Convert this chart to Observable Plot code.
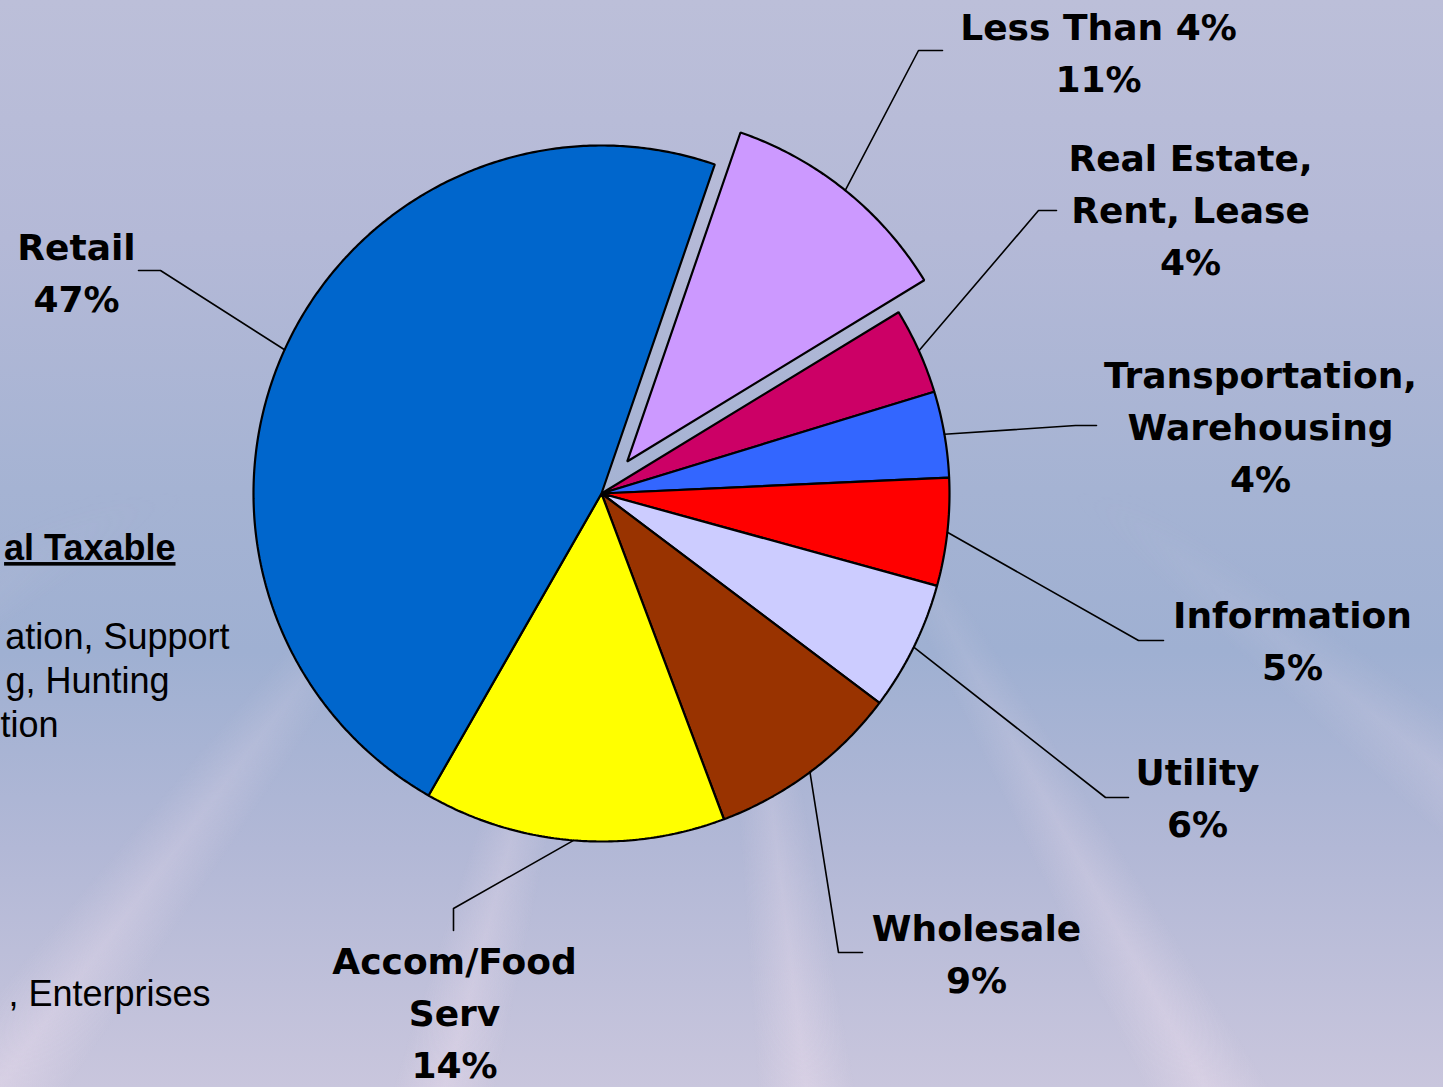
<!DOCTYPE html>
<html>
<head>
<meta charset="utf-8">
<script src="https://cdn.jsdelivr.net/npm/d3@7"></script>
<script src="https://cdn.jsdelivr.net/npm/@observablehq/plot@0.6"></script>
<style>
  html, body { margin: 0; padding: 0; overflow: hidden; width: 1443px; height: 1087px; }
  body {
    position: relative;
    background: linear-gradient(to bottom, #bcbfd9 0%, #b4b9d7 22%, #a5b3d3 45%, #9fb0d2 60%, #b2b8d6 78%, #c9c6dd 100%);
  }
  #rays {
    position: absolute; left: 0; top: 0; width: 1443px; height: 1087px;
    background: repeating-conic-gradient(from 95deg at 48% 15%,
      rgba(236,222,238,0) 0deg, rgba(236,222,238,0) 9deg,
      rgba(236,222,238,0.42) 12deg, rgba(236,222,238,0) 15deg, rgba(236,222,238,0) 22deg);
    -webkit-mask-image: linear-gradient(to bottom, rgba(0,0,0,0) 45%, rgba(0,0,0,1) 100%);
    mask-image: linear-gradient(to bottom, rgba(0,0,0,0) 45%, rgba(0,0,0,1) 100%);
  }
  #chart { position: absolute; left: 0; top: 0; }
</style>
</head>
<body>
<div id="rays"></div>
<div id="chart"></div>
<script>
// ---- data ----
const categories = ["Less Than 4%", "Real Estate, Rent, Lease", "Transportation, Warehousing", "Information", "Utility", "Wholesale", "Accom/Food Serv", "Retail"];
const shares = [11, 4, 4, 5, 6, 9, 14, 47];
const labelLines = [["Less Than 4%"], ["Real Estate,", "Rent, Lease"], ["Transportation,", "Warehousing"], ["Information"], ["Utility"], ["Wholesale"], ["Accom/Food", "Serv"], ["Retail"]];
const sideText = ["al Taxable", "ation, Support", "g, Hunting", "tion", ", Enterprises"];

// ---- styles / layout ----
const colors = ["#CC99FF", "#CC0066", "#3366FF", "#FF0000", "#CCCCFF", "#993300", "#FFFF00", "#0066CC"];
const explodedIdx = 0;
const W = 1443, H = 1087, cx = 601, cy = 493, R = 348, explodePx = 41;
const startDeg = 19;
// label block: centre x, first line y ; leader elbow and end
const labelPos = [[1098, 28], [1190, 159], [1260, 376], [1292, 616], [1197, 773], [976, 929], [454, 962], [76, 248]];
const lineGap = 52;
const elbows = [[918, 50], [1038, 210], [1075, 425], [1138, 640], [1105, 797], [838, 952], [453, 908], [160, 270]];
const ends = [[942, 50], [1056, 210], [1096, 425], [1163, 640], [1128, 797], [862, 952], [453, 930], [138, 270]];
const sidePos = [[175, 548], [229, 637], [169, 681], [58, 725], [210, 994]];

const pie = d3.pie().sort(null).startAngle(startDeg * Math.PI / 180).endAngle(startDeg * Math.PI / 180 + 2 * Math.PI);
const arcs = pie(shares);

const marks = [];
arcs.forEach((a, i) => {
  const mid = (a.startAngle + a.endAngle) / 2;
  const off = i === explodedIdx ? explodePx : 0;
  const ox = cx + off * Math.sin(mid), oy = cy - off * Math.cos(mid);
  const pts = [{x: ox, y: oy}];
  const n = Math.max(2, Math.ceil((a.endAngle - a.startAngle) / (Math.PI / 360)));
  for (let k = 0; k <= n; k++) {
    const t = a.startAngle + (a.endAngle - a.startAngle) * k / n;
    pts.push({x: ox + R * Math.sin(t), y: oy - R * Math.cos(t)});
  }
  marks.push(Plot.line(pts, {x: "x", y: "y", curve: "linear-closed", fill: colors[i], stroke: "black", strokeWidth: 2.2, strokeLinejoin: "miter"}));
});

// leader lines
const leaders = [];
arcs.forEach((a, i) => {
  const mid = (a.startAngle + a.endAngle) / 2;
  const off = i === explodedIdx ? explodePx : 0;
  const ox = cx + off * Math.sin(mid), oy = cy - off * Math.cos(mid);
  leaders.push({s: i, x: ox + R * Math.sin(mid), y: oy - R * Math.cos(mid)});
  leaders.push({s: i, x: elbows[i][0], y: elbows[i][1]});
  leaders.push({s: i, x: ends[i][0], y: ends[i][1]});
});
marks.push(Plot.line(leaders, {x: "x", y: "y", z: "s", stroke: "black", strokeWidth: 1.6}));

// labels
const rows = [];
categories.forEach((c, i) => {
  const lines = [...labelLines[i], `${shares[i]}%`];
  lines.forEach((t, k) => rows.push({x: labelPos[i][0], y: labelPos[i][1] + k * lineGap, text: t}));
});
marks.push(Plot.text(rows, {x: "x", y: "y", text: "text", fontSize: 36, fontWeight: "bold", fontFamily: "'DejaVu Sans', Verdana, sans-serif", textAnchor: "middle", lineAnchor: "middle", fill: "black"}));

const side = sideText.map((t, i) => ({x: sidePos[i][0], y: sidePos[i][1], text: t, bold: i === 0}));
marks.push(Plot.text(side.filter(d => d.bold), {x: "x", y: "y", text: "text", fontSize: 36, fontWeight: "bold", fontFamily: "'Liberation Sans', Arial, sans-serif", textAnchor: "end", lineAnchor: "middle", fill: "black"}));
marks.push(Plot.text(side.filter(d => !d.bold), {x: "x", y: "y", text: "text", fontSize: 36, fontFamily: "'Liberation Sans', Arial, sans-serif", textAnchor: "end", lineAnchor: "middle", fill: "black"}));

const chart = Plot.plot({
  width: W, height: H, margin: 0,
  x: {domain: [0, W], range: [0, W], axis: null},
  y: {domain: [0, H], range: [0, H], axis: null},
  style: {background: "transparent", overflow: "visible"},
  marks
});
d3.select(chart).selectAll("text").filter(function() { return this.textContent === sideText[0]; })
  .style("text-decoration", "underline");
document.getElementById("chart").appendChild(chart);
</script>
</body>
</html>
